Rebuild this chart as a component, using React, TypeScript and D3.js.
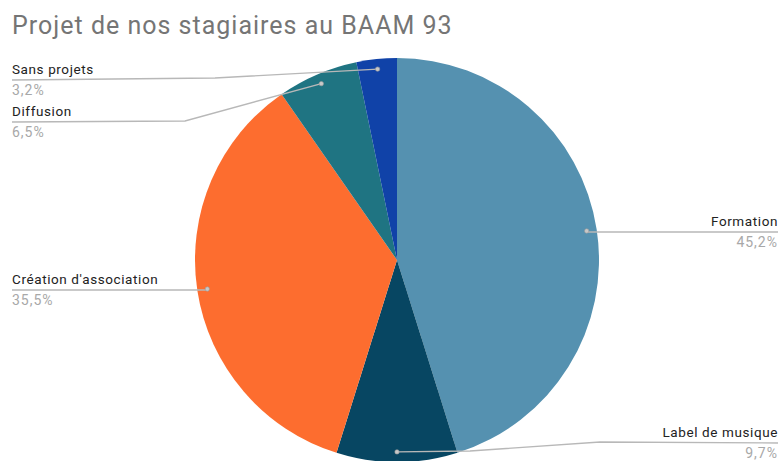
import * as d3 from "d3";

// chart data
const categories = ["Formation", "Label de musique", "Création d'association", "Diffusion", "Sans projets"];
const counts = [14, 3, 11, 2, 1];
const percentLabels = ["45,2%", "9,7%", "35,5%", "6,5%", "3,2%"];
const colors = ["#5591b0", "#074662", "#fd6d2f", "#1f7482", "#1042a8"];

const title = "Projet de nos stagiaires au BAAM 93";

// label placement (side, baseline of label text, points where leader bends)
const labelLayout: Record<string, { side: "left" | "right"; y: number; bend: number[] }> = {
  "Formation": { side: "right", y: 226, bend: [] },
  "Label de musique": { side: "right", y: 437, bend: [470, 451, 600, 442] },
  "Création d'association": { side: "left", y: 284, bend: [] },
  "Diffusion": { side: "left", y: 116, bend: [185, 121] },
  "Sans projets": { side: "left", y: 74, bend: [215, 78] },
};

const W = 780;
const H = 461;
const cx = 397;
const cy = 260;
const R = 202;

export default function App() {
  const pie = d3.pie<number>().sort(null).value(d => d);
  const arcs = pie(counts);
  const arc = d3.arc<d3.PieArcDatum<number>>().innerRadius(0).outerRadius(R);
  const dotArc = d3.arc<d3.PieArcDatum<number>>().innerRadius(R * 0.95).outerRadius(R * 0.95);
  const font = "Roboto, Arial, sans-serif";

  return (
    <svg width={W} height={H} style={{ position: "absolute", left: 0, top: 0, background: "#fff" }}>
      <text x={12} y={34} fontFamily={font} fontSize={25} letterSpacing={1} fill="#757575">{title}</text>
      <g transform={`translate(${cx},${cy})`}>
        {arcs.map((a, i) => (
          <path key={i} d={arc(a) ?? ""} fill={colors[i]} />
        ))}
      </g>
      {arcs.map((a, i) => {
        const name = categories[i];
        const lay = labelLayout[name];
        const [dx, dy] = dotArc.centroid(a);
        const px = cx + dx;
        const py = cy + dy;
        const lineY = lay.y + 6;
        const pts: number[][] = [[px, py]];
        for (let k = 0; k < lay.bend.length; k += 2) pts.push([lay.bend[k], lay.bend[k + 1]]);
        const endX = lay.side === "left" ? 12 : 778;
        if (lay.bend.length === 0) pts.push([px, lineY]);
        pts.push([endX, lineY]);
        const line = d3.line()(pts as [number, number][]) ?? "";
        const anchor = lay.side === "left" ? "start" : "end";
        return (
          <g key={name}>
            <path d={line} fill="none" stroke="#b8b8b8" strokeWidth={1.4} />
            <circle cx={px} cy={py} r={2.2} fill="#c8c8c8" stroke="#999" strokeWidth={0.6} />
            <text x={endX} y={lay.y} fontFamily={font} fontSize={13.5} letterSpacing={0.6} fill="#222" textAnchor={anchor}>{name}</text>
            <text x={endX} y={lay.y + 21} fontFamily={font} fontSize={14} letterSpacing={1} fill="#a8a8a8" textAnchor={anchor}>{percentLabels[i]}</text>
          </g>
        );
      })}
    </svg>
  );
}
